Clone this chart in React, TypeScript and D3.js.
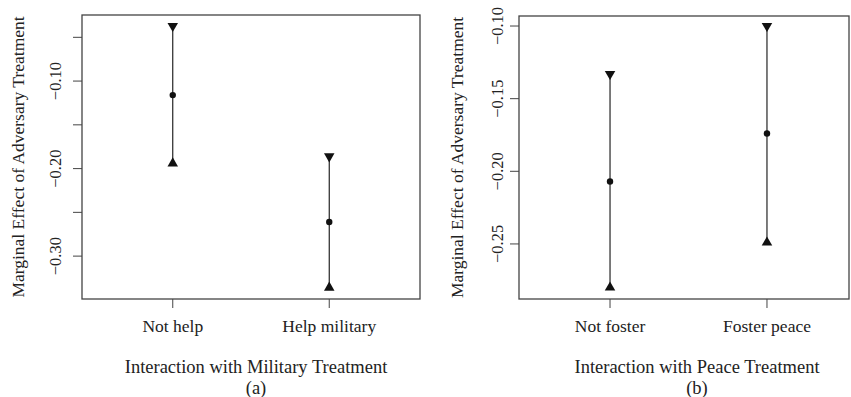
import React from 'react'
import * as d3 from 'd3'

// panel (a): interaction with military treatment
const militaryCats = ['Not help', 'Help military']
const militaryEst = [-0.116, -0.261]
const militaryLo = [-0.194, -0.336]
const militaryHi = [-0.037, -0.186]
const militaryTicks = [-0.05, -0.1, -0.15, -0.2, -0.25, -0.3]
const militaryLabeled = [-0.1, -0.2, -0.3]

// panel (b): interaction with peace treatment
const peaceCats = ['Not foster', 'Foster peace']
const peaceEst = [-0.207, -0.174]
const peaceLo = [-0.28, -0.249]
const peaceHi = [-0.133, -0.1]
const peaceTicks = [-0.1, -0.15, -0.2, -0.25]
const peaceLabeled = [-0.1, -0.15, -0.2, -0.25]

const yTitle = 'Marginal Effect of Adversary Treatment'
const fmt = d3.format('.2f')
const serif = "'Liberation Serif', 'DejaVu Serif', serif"

const triUp = d3.symbol().type(d3.symbolTriangle).size(48)() as string

type PanelProps = {
  cats: string[]; est: number[]; lo: number[]; hi: number[]
  ticks: number[]; labeled: number[]
  yDomain: [number, number]
  box: { left: number; right: number; top: number; bottom: number }
  xRangeRight: number
  tickLabelX: number; yTitleX: number
  title: string; tag: string; titleX: number
}

function Panel(p: PanelProps) {
  const { box } = p
  const y = d3.scaleLinear().domain(p.yDomain).range([box.bottom, box.top])
  const x = d3.scalePoint<string>().domain(p.cats).range([box.left, p.xRangeRight]).padding(0.58)
  const midY = (box.top + box.bottom) / 2
  return (
    <g>
      <rect x={box.left} y={box.top} width={box.right - box.left} height={box.bottom - box.top}
        fill="none" stroke="#444" strokeWidth={1.3} />
      {p.ticks.map(t => (
        <g key={t}>
          <line x1={box.left - 9} x2={box.left} y1={y(t)} y2={y(t)} stroke="#444" strokeWidth={1} />
          {p.labeled.includes(t) && (
            <text transform={`translate(${p.tickLabelX},${y(t)}) rotate(-90)`} textAnchor="middle"
              style={{ fontFamily: serif, fontSize: 16.5 }} fill="#222">{fmt(t)}</text>
          )}
        </g>
      ))}
      {p.cats.map(c => (
        <g key={c}>
          <line x1={x(c)} x2={x(c)} y1={box.bottom} y2={box.bottom + 9} stroke="#444" strokeWidth={1} />
          <text x={x(c)} y={box.bottom + 33} textAnchor="middle" style={{ fontFamily: serif, fontSize: 17.5 }} fill="#222">{c}</text>
        </g>
      ))}
      <text transform={`translate(${p.yTitleX},${midY}) rotate(-90)`} textAnchor="middle"
        style={{ fontFamily: serif, fontSize: 17.5 }} fill="#222">{yTitle}</text>
      <text x={p.titleX} y={373} textAnchor="middle" style={{ fontFamily: serif, fontSize: 18.5 }} fill="#222">{p.title}</text>
      <text x={p.titleX} y={394} textAnchor="middle" style={{ fontFamily: serif, fontSize: 18.5 }} fill="#222">{p.tag}</text>
      {p.cats.map((c, i) => (
        <g key={'m' + c}>
          <line x1={x(c)} x2={x(c)} y1={y(p.lo[i])} y2={y(p.hi[i])} stroke="#111" strokeWidth={1.1} />
          <path d={triUp} transform={`translate(${x(c)},${y(p.lo[i])})`} fill="#111" />
          <path d={triUp} transform={`translate(${x(c)},${y(p.hi[i])}) rotate(180)`} fill="#111" />
          <circle cx={x(c)} cy={y(p.est[i])} r={3.2} fill="#111" />
        </g>
      ))}
    </g>
  )
}

export default function App() {
  return (
    <svg width={851} height={397} style={{ position: 'absolute', left: 0, top: 0, background: '#fff' }}>
      <Panel cats={militaryCats} est={militaryEst} lo={militaryLo} hi={militaryHi}
        ticks={militaryTicks} labeled={militaryLabeled} yDomain={[-0.349, -0.0245]}
        box={{ left: 82, right: 420, top: 15, bottom: 299 }} xRangeRight={420}
        tickLabelX={61} yTitleX={24} title="Interaction with Military Treatment" tag="(a)" titleX={256} />
      <Panel cats={peaceCats} est={peaceEst} lo={peaceLo} hi={peaceHi}
        ticks={peaceTicks} labeled={peaceLabeled} yDomain={[-0.2879, -0.0931]}
        box={{ left: 519, right: 849, top: 16, bottom: 299 }} xRangeRight={858}
        tickLabelX={503} yTitleX={463} title="Interaction with Peace Treatment" tag="(b)" titleX={697} />
    </svg>
  )
}
